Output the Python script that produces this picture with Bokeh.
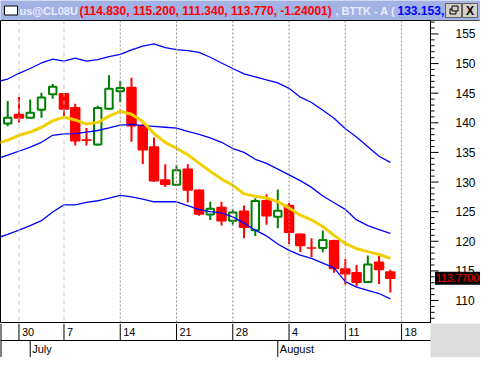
from bokeh.plotting import figure
from bokeh.layouts import column
from bokeh.models import Range1d, Span, ColumnDataSource
from bokeh.embed import file_html
from bokeh.resources import INLINE
from bokeh.core.properties import value

# ---------------- data ----------------
# trading-day index 0 = Fri 27 Jun 2008 ... 34 = Fri 15 Aug 2008
opens  = [139.90, 141.40, 140.87, 142.21, 144.80, 144.92, 142.54, 137.08, 136.34, 142.37,
          145.34, 145.98, 139.51, 135.90, 130.35, 129.54, 132.18, 128.62, 124.52, 125.70,
          123.48, 125.05, 121.87, 126.84, 124.13, 126.03, 121.17, 118.88, 118.86, 120.09,
          115.34, 114.70, 113.13, 116.48, 114.83]
highs  = [143.67, 144.37, 143.94, 145.08, 146.53, 145.01, 143.23, 139.14, 142.86, 148.04,
          147.07, 147.60, 139.80, 137.52, 132.99, 132.82, 132.99, 128.73, 126.67, 126.67,
          125.38, 126.03, 127.27, 127.92, 128.73, 126.46, 121.33, 120.52, 121.82, 120.25,
          117.01, 115.99, 117.61, 117.56, 115.20]
lows   = [139.41, 140.06, 140.87, 140.87, 144.04, 141.13, 136.17, 136.17, 136.17, 142.21,
          143.46, 136.82, 133.03, 130.07, 129.15, 129.54, 126.56, 124.29, 123.60, 122.68,
          122.79, 120.52, 120.90, 122.79, 122.19, 119.55, 118.21, 117.34, 118.14, 114.70,
          112.70, 112.38, 113.03, 112.80, 111.34]
closes = [140.87, 140.80, 141.68, 144.27, 146.10, 142.33, 136.98, 137.05, 142.49, 145.73,
          145.89, 139.51, 135.46, 130.23, 129.64, 131.97, 128.66, 124.62, 125.49, 123.48,
          124.84, 122.35, 126.79, 124.29, 125.17, 121.54, 119.28, 118.85, 120.20, 115.39,
          114.53, 113.08, 116.10, 115.23, 113.77]

# indicator lines, trading-day index -1 ... 34
line_days = list(range(-1, 35))
upper_band = [146.90, 147.39, 148.36, 149.17, 150.10, 150.74, 150.42, 150.90, 150.42, 150.68,
              151.16, 151.55, 152.30, 152.94, 153.33, 152.69, 152.36, 152.20, 151.88, 151.07,
              150.10, 149.17, 148.25, 147.76, 147.23, 146.74, 145.82, 144.32, 143.43, 142.13,
              140.76, 138.98, 137.60, 135.95, 134.36, 133.31]
middle_band = [133.90, 134.56, 135.20, 135.90, 136.71, 137.89, 138.12, 138.17, 138.44, 138.70,
               139.14, 139.62, 139.74, 139.51, 139.41, 139.25, 139.09, 138.54, 138.05, 137.47,
               136.71, 135.66, 135.00, 133.84, 133.15, 132.18, 131.20, 130.23, 129.10, 127.64,
               126.51, 125.38, 123.60, 122.63, 121.98, 121.33]
lower_band = [120.50, 121.17, 121.87, 122.63, 123.48, 124.95, 126.14, 126.14, 126.56, 126.84,
              127.27, 127.76, 127.48, 127.11, 126.67, 126.67, 126.67, 126.03, 125.33, 125.00,
              124.78, 124.13, 123.06, 121.87, 120.90, 119.55, 118.47, 117.66, 117.12, 116.31,
              115.50, 113.19, 112.27, 111.73, 111.18, 110.28]
yellow_ma = [136.50, 137.08, 137.89, 138.44, 139.25, 140.32, 140.97, 140.48, 139.79, 140.06,
             141.13, 141.94, 141.45, 140.20, 138.20, 136.70, 135.70, 134.60, 133.20, 131.80,
             130.50, 129.45, 128.00, 127.60, 127.30, 126.70, 125.60, 124.40, 123.60, 122.50,
             121.00, 119.63, 118.74, 118.26, 117.77, 117.12]

week_ticks = [1, 5, 10, 15, 20, 25, 30, 35]
week_labels = ["30", "7", "14", "21", "28", "4", "11", "18"]
month_ticks = [2, 24]
month_labels = ["July", "August"]
last_price = 113.77
last_price_text = "113.7700"
price_tick_step = 5

title_symbol = "us@CL08U"
title_values = "(114.830, 115.200, 111.340, 113.770, -1.24001)"
title_study = ", BTTK - A ("
title_study_value = "133.153,"

# ---------------- layout constants ----------------
W = 480
PLOT_W = 430          # width of the candle area; the rest is the price scale
TOP_H = 20
MAIN_H = 303
DATE_H = 34
FONT = "Liberation Sans"

X0, X1 = -0.64, 37.57
ppu = PLOT_W / (X1 - X0)           # pixels per trading day
xr = Range1d(X0, X0 + W / ppu)
yr = Range1d(106.12, 157.27)


def bare(fig, bg):
    fig.grid.visible = False
    fig.background_fill_color = bg
    fig.border_fill_color = bg
    fig.min_border = 0
    return fig


# ---------------- title bar ----------------
BAR = "#a3b2e4"
t = bare(figure(width=W, height=TOP_H, x_range=Range1d(0, W), y_range=Range1d(0, TOP_H),
                x_axis_location=None, y_axis_location=None, min_border=0,
                toolbar_location=None, output_backend="svg"), BAR)
t.outline_line_color = None
t.quad(left=[4], right=[17], bottom=[5.5], top=[14.5], fill_color="white", line_color="black", line_width=1)
tstyle = dict(text_font=value(FONT), text_font_style="bold", text_baseline="middle")
t.text(x=[19], y=[10], text=[title_symbol], text_color="#e8ecff", text_font_size="11px", **tstyle)
t.text(x=[79], y=[10], text=[title_values], text_color="#ff0000", text_font_size="12px", **tstyle)
t.text(x=[335], y=[10], text=[title_study], text_color="#e8ecff", text_font_size="11px", **tstyle)
t.text(x=[397], y=[10], text=[title_study_value], text_color="#0000ff", text_font_size="12px", **tstyle)
t.quad(left=[445, 462], right=[461, 477], bottom=[3, 3], top=[17, 17],
       fill_color="#d4d0c8", line_color="#606060", line_width=1)
t.quad(left=[449.5], right=[455.5], bottom=[6.5], top=[11.5], fill_alpha=0, line_color="black", line_width=1)
t.quad(left=[451.5], right=[457.5], bottom=[9.5], top=[14.5], fill_color="#d4d0c8", line_color="black", line_width=1)
t.text(x=[469.5], y=[10], text=["X"], text_color="black", text_align="center",
       text_font=value(FONT), text_font_style="bold", text_font_size="12px", text_baseline="middle")

# ---------------- main chart ----------------
p = bare(figure(width=W, height=MAIN_H, x_range=xr, y_range=yr, output_backend="svg",
                toolbar_location=None, x_axis_location=None, y_axis_location=None, min_border=0), "white")
p.outline_line_color = "black"

for k, wk in enumerate(week_ticks):
    if k < 2:
        p.add_layout(Span(location=wk, dimension="height", line_color="#c4c4c4", line_dash="4 4", line_width=1))
    else:
        p.add_layout(Span(location=wk, dimension="height", line_color="#8c8c8c", line_dash="2 2", line_width=1))

n = len(opens)
idx = list(range(n))
up = [i for i in idx if closes[i] > opens[i]]
dn = [i for i in idx if closes[i] <= opens[i]]

wick_src = ColumnDataSource(dict(x=idx, lo=lows, hi=highs,
                                 c=["#008000" if closes[i] > opens[i] else "#ff0000" for i in idx]))
p.segment(x0="x", y0="lo", x1="x", y1="hi", line_color="c", line_width=2, source=wick_src)

up_src = ColumnDataSource(dict(x=up, o=[opens[i] for i in up], c=[closes[i] for i in up]))
dn_src = ColumnDataSource(dict(x=dn, o=[opens[i] for i in dn], c=[closes[i] for i in dn]))
p.vbar(x="x", width=0.66, top="c", bottom="o", fill_color="white", line_color="#008000",
       line_width=2, source=up_src)
p.vbar(x="x", width=0.8, top="o", bottom="c", fill_color="#ff0000", line_color="#ff0000",
       line_width=1.5, source=dn_src)

p.line(line_days, upper_band, line_color="#0000ff", line_width=1.3)
p.line(line_days, middle_band, line_color="#0000ff", line_width=1.3)
p.line(line_days, lower_band, line_color="#0000ff", line_width=1.3)
p.line(line_days, yellow_ma, line_color="#f2d000", line_width=3)

# price scale (right)
p.quad(left=[X1], right=[xr.end], bottom=[yr.start], top=[yr.end], fill_color="white", line_color=None)
p.add_layout(Span(location=X1, dimension="height", line_color="black", line_width=1))
lo_t, hi_t = int(yr.start) + 1, int(yr.end)
major_ticks = [v for v in range(lo_t, hi_t + 1) if v % price_tick_step == 0]
minor_ticks = [v for v in range(lo_t, hi_t + 1) if v % price_tick_step != 0]
p.ray(x=[X1] * len(major_ticks), y=major_ticks, length=8, length_units="screen", angle=0,
      line_color="black", line_width=1)
p.ray(x=[X1] * len(minor_ticks), y=minor_ticks, length=4, length_units="screen", angle=0,
      line_color="black", line_width=1)
p.text(x=[X1] * len(major_ticks), y=major_ticks, text=[str(v) for v in major_ticks], x_offset=25,
       text_font=value(FONT), text_font_size="12px", text_baseline="middle", text_color="black")
p.rect(x=[X1 + 27.5 / ppu], y=[last_price], width=46, height=13, width_units="screen",
       height_units="screen", fill_color="black", line_color=None)
p.text(x=[X1], y=[last_price], text=[last_price_text], x_offset=5.5, text_color="#ff0000",
       text_font=value(FONT), text_font_size="10.5px", text_baseline="middle")

# ---------------- date rows ----------------
d = bare(figure(width=W, height=DATE_H, x_range=xr, y_range=Range1d(0, 2), output_backend="svg",
                toolbar_location=None, x_axis_location=None, y_axis_location=None, min_border=0), "white")
d.outline_line_color = None
d.quad(left=[X1], right=[xr.end], bottom=[0], top=[2], fill_color="#dcdcdc", line_color=None)
d.segment(x0=[X0], y0=[1], x1=[X1], y1=[1], line_color="black", line_width=1)
d.add_layout(Span(location=X0, dimension="height", line_color="black", line_width=2))
d.segment(x0=week_ticks, y0=[1] * len(week_ticks), x1=week_ticks, y1=[2] * len(week_ticks),
          line_color="black", line_width=1)
d.text(x=week_ticks, y=[1.5] * len(week_ticks), text=week_labels, x_offset=3,
       text_font=value(FONT), text_font_size="11px", text_baseline="middle", text_color="black")
d.segment(x0=month_ticks, y0=[0] * len(month_ticks), x1=month_ticks, y1=[1] * len(month_ticks),
          line_color="black", line_width=1)
d.text(x=month_ticks, y=[0.5] * len(month_ticks), text=month_labels, x_offset=2,
       text_font=value(FONT), text_font_size="11px", text_baseline="middle", text_color="black")

layout = column(t, p, d, spacing=0)
open("out.html", "w").write(file_html(layout, INLINE))
